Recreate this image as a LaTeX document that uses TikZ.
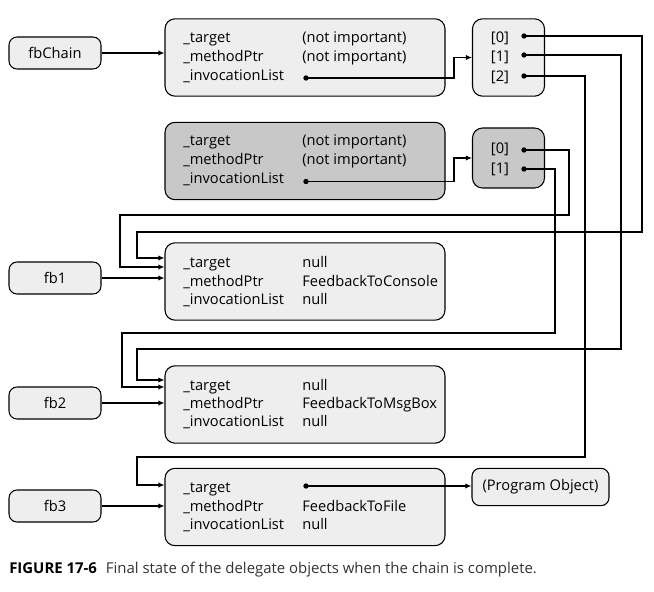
\documentclass[tikz,border=0pt]{standalone}
\usepackage{fontspec}
\setmainfont{Open Sans}
\usetikzlibrary{arrows.meta}
\definecolor{objlight}{HTML}{EEEEEE}
\definecolor{objdark}{HTML}{C8C8C8}
\definecolor{captext}{HTML}{333333}
\begin{document}
\begin{tikzpicture}[x=0.75pt,y=-0.75pt,
	font=\fontsize{11}{13}\selectfont,
	var node/.style = {draw,rounded corners=6pt,line width=0.8pt,fill=objlight,minimum width=69pt,minimum height=24pt,inner sep=0pt},
	obj node/.style = {draw,rounded corners=7.5pt,line width=0.8pt,fill=objlight,minimum width=210pt,minimum height=58pt,inner sep=0pt},
	arr node/.style = {obj node,minimum width=54pt},
	field/.style = {anchor=west,inner sep=0pt,text height=9pt,text depth=1.5pt},
	slot/.style = {inner sep=0pt,text height=9pt,text depth=1.5pt},
	link/.style = {line width=1.2pt,-{Latex[length=4.5pt,width=4pt]}},
	ptr dot/.style = {circle,fill,inner sep=0pt,minimum size=4pt}]
	\useasboundingbox (0,0) rectangle (654,592);
	
	\node[var node] (fbChain) at (55,53) {fbChain};
	\node[obj node] (chain) at (305,57.5) {};
	\node[arr node] (list1) at (508.5,57.5) {};
	\node[obj node,fill=objdark] (inner) at (305,161) {};
	\node[arr node,fill=objdark,minimum height=45pt] (list2) at (508.5,158) {};
	\node[var node] (fb1) at (55,278) {fb1};
	\node[obj node] (d1) at (305,281.5) {};
	\node[var node] (fb2) at (55,403) {fb2};
	\node[obj node] (d2) at (305,404.5) {};
	\node[var node] (fb3) at (55,506) {fb3};
	\node[obj node] (d3) at (305,507) {};
	\node[var node,minimum width=102.75pt,minimum height=28pt] (prog) at (540.5,487) {(Program Object)};
	
	% fields of the delegate objects
	\node[field] (c1) at (183,38) {\_target};
	\node[field] (c2) at (183,57) {\_methodPtr};
	\node[field] (c3) at (183,76) {\_invocationList};
	\node[field] at (302,38) {(not important)};
	\node[field] at (302,57) {(not important)};
	\node[field] (i1) at (183,141) {\_target};
	\node[field] (i2) at (183,160) {\_methodPtr};
	\node[field] (i3) at (183,179) {\_invocationList};
	\node[field] at (302,141) {(not important)};
	\node[field] at (302,160) {(not important)};
	\node[field] at (183,262) {\_target};
	\node[field] at (183,281) {\_methodPtr};
	\node[field] at (183,299) {\_invocationList};
	\node[field] at (302,262) {null};
	\node[field] at (302,281) {FeedbackToConsole};
	\node[field] at (302,299) {null};
	\node[field] at (183,385) {\_target};
	\node[field] at (183,403) {\_methodPtr};
	\node[field] at (183,421) {\_invocationList};
	\node[field] at (302,385) {null};
	\node[field] at (302,403) {FeedbackToMsgBox};
	\node[field] at (302,421) {null};
	\node[field] at (183,487) {\_target};
	\node[field] at (183,506) {\_methodPtr};
	\node[field] at (183,524) {\_invocationList};
	\node[field] at (302,506) {FeedbackToFile};
	\node[field] at (302,524) {null};
	
	% array slots
	\node[slot] (s0) at (500,38) {[0]};
	\node[slot] (s1) at (500,57) {[1]};
	\node[slot] (s2) at (500,76.5) {[2]};
	\node[slot] (r0) at (500,149) {[0]};
	\node[slot] (r1) at (500,168.5) {[1]};
	
	\node[ptr dot] (p1) at (306,78) {};
	\node[ptr dot] (p2) at (306,181.5) {};
	\node[ptr dot] (p3) at (306,486) {};
	\node[ptr dot] (a0) at (524,36) {};
	\node[ptr dot] (a1) at (524,55) {};
	\node[ptr dot] (a2) at (524,76) {};
	\node[ptr dot] (b0) at (524,150) {};
	\node[ptr dot] (b1) at (524,169) {};
	
	\draw[link] (fbChain) -- (fbChain -| chain.west);
	\draw[link] (fb1) -- (fb1 -| d1.west);
	\draw[link] (fb2) -- (fb2 -| d2.west);
	\draw[link] (fb3) -- (fb3 -| d3.west);
	\draw[link] (p1.center) -| ([xshift=-13.5pt]list1.west) -- (list1.west);
	\draw[link] (p2.center) -| ([xshift=-13.5pt]list2.west) -- (list2.west);
	\draw[link] (p3.center) -- (p3 -| prog.west);
	\draw[link] (b0.center) -| (569,215) -| (120,267) -- (d1.west |- 0,267);
	\draw[link] (a0.center) -| (642,232) -| (137,258) -- (d1.west |- 0,258);
	\draw[link] (b1.center) -| (555,333) -| (122,387) -- (d2.west |- 0,387);
	\draw[link] (a1.center) -| (621,349) -| (137,380) -- (d2.west |- 0,380);
	\draw[link] (a2.center) -| (585,457) -| (137,485) -- (d3.west |- 0,485);
	
	\node[anchor=west,inner sep=0pt,font=\fontsize{11.2}{13}\selectfont,text=captext] (caption) at (9,570) {\textcolor{black}{\textbf{FIGURE 17-6}}\hspace{0.6em}Final state of the delegate objects when the chain is complete.};
\end{tikzpicture}
\end{document}
